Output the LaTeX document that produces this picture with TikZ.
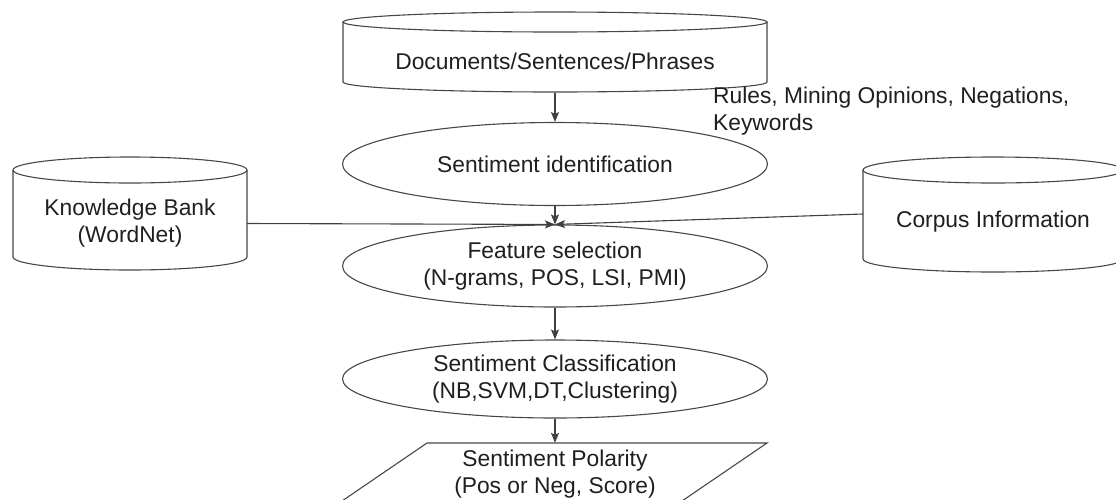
\documentclass[tikz,border=0pt]{standalone}
\usepackage{fontspec}
\setmainfont{Liberation Sans}
\usetikzlibrary{arrows.meta,shapes.geometric}
\begin{document}
\begin{tikzpicture}[x=1pt,y=1pt,
  shp/.style={draw=black!72, line width=1.1pt},
  txt/.style={font=\fontsize{22.8}{27}\selectfont, text=black!88, align=center, inner sep=0pt},
  oval/.style={ellipse, shp, txt, minimum width=425pt},
  conn/.style={draw=black!75, line width=1.1pt, -{Stealth[length=10pt,width=8pt,inset=2pt]}}
]
\useasboundingbox (0,0) rectangle (1116,-499);

% Documents cylinder
\draw[shp] (343,-22) -- (343,-82) arc[start angle=180,end angle=360,x radius=212,y radius=10] -- (767,-22);
\draw[shp] (555,-22) ellipse[x radius=212, y radius=10];
\node[txt, minimum height=62pt] (docs) at (555,-61.5) {Documents/Sentences/Phrases};

% Knowledge Bank cylinder
\draw[shp] (13,-170) -- (13,-257) arc[start angle=180,end angle=360,x radius=117,y radius=13] -- (247,-170);
\draw[shp] (130,-170) ellipse[x radius=117, y radius=13];
\node[txt, minimum width=234pt] (kb) at (130,-223.5) {Knowledge Bank\\(WordNet)};

% Corpus cylinder
\draw[shp] (863,-170) -- (863,-259) arc[start angle=180,end angle=360,x radius=130,y radius=13] -- (1123,-170);
\draw[shp] (993,-170) ellipse[x radius=130, y radius=13];
\node[txt, minimum width=260pt] (corp) at (993,-222) {Corpus Information};

% Ellipses
\node[oval, minimum height=83pt] (ident) at (555,-164) {Sentiment identification};
\node[oval, minimum height=82pt] (feat) at (555,-266) {Feature selection\\(N-grams, POS, LSI, PMI)};
\node[oval, minimum height=78pt] (cls) at (555,-379) {Sentiment Classification\\(NB,SVM,DT,Clustering)};

% Parallelogram
\draw[shp] (342,-501) -- (427,-443) -- (767,-443) -- (682,-501);
\node[txt, minimum height=62pt] (pol) at (555,-474) {Sentiment Polarity\\(Pos or Neg, Score)};

% Label
\node[txt, align=left, anchor=north west] (rules) at (713,-87) {Rules, Mining Opinions, Negations,\\Keywords};

% Connectors
\draw[conn] (docs.south) -- (ident.north);
\draw[conn] (ident.south) -- (feat.north);
\draw[conn] (kb.east) -- (feat.north);
\draw[conn] ([yshift=8pt]corp.west) -- (feat.north);
\draw[conn] (feat.south) -- (cls.north);
\draw[conn] (cls.south) -- (pol.north);
\end{tikzpicture}
\end{document}
